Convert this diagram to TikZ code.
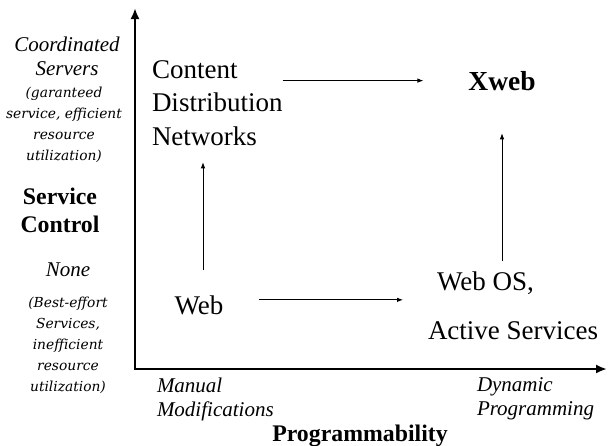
\documentclass[tikz,border=0pt]{standalone}
\usepackage{fontspec}
\setmainfont{Liberation Serif}
\newfontfamily\notefont{DejaVu Serif}
\usetikzlibrary{arrows.meta}
\begin{document}
\begin{tikzpicture}[x=1pt,y=-1pt,
  every node/.style={inner sep=0pt, outer sep=0pt},
  axisline/.style={line width=2.4pt, line join=miter},
  conn/.style={line width=0.8pt, -{Latex[length=6pt,width=4.5pt]}},
  scaletitle/.style={font=\fontsize{21}{23.5}\selectfont\itshape, align=center},
  note/.style={font=\notefont\itshape\fontsize{13.8}{21}\selectfont, align=center},
  axistitle/.style={font=\fontsize{23.8}{28}\selectfont\bfseries, align=center},
  stage/.style={font=\fontsize{27}{33.5}\selectfont},
]
\useasboundingbox (0,0) rectangle (613,445);

% axes
\coordinate (origin) at (135,369);
\coordinate (ytip) at (135,8);
\coordinate (xtip) at (607,369);
\draw[axisline, {Latex[length=11pt,width=9pt]}-{Latex[length=11pt,width=9pt]}]
  (ytip) -- (origin) -- (xtip);

% vertical axis labels (base = baseline of the last line)
\node[scaletitle, anchor=base] (coord) at (67,75) {Coordinated\\Servers};
\node[note, anchor=base] (coordnote) at (64,160)
  {(garanteed\\service, efficient\\resource\\utilization)};
\node[axistitle, anchor=base] (vtitle) at (60,232) {Service\\Control};
\node[scaletitle, anchor=base] (none) at (68,276) {None};
\node[note, anchor=base] (nonenote) at (68,391)
  {(Best-effort\\Services,\\inefficient\\resource\\utilization)};

% horizontal axis labels
\node[scaletitle, align=left, anchor=base west] (manual) at (157,416) {Manual\\Modifications};
\node[scaletitle, align=left, anchor=base west] (dynamic) at (477,415) {Dynamic\\Programming};
\node[axistitle, anchor=base] (htitle) at (360,441) {Programmability};

% stages
\node[stage, align=left, anchor=base west] (cdn) at (152,145) {Content\\Distribution\\Networks};
\node[font=\fontsize{27.5}{30}\selectfont\bfseries, anchor=base] (xweb) at (502,90) {Xweb};
\node[stage, anchor=base] (web) at (199,314) {Web};
\node[font=\fontsize{27}{49}\selectfont, align=left, anchor=base west] (webos) at (428,339)
  {\hspace{9pt}Web OS,\\Active Services};

% transitions
\coordinate (webtop) at ([xshift=4pt]web.north);
\draw[conn, shorten <=25pt, shorten >=17pt] (webtop) -- (webtop |- cdn.south);
\draw[conn, shorten >=45pt] (cdn.east |- xweb.center) -- (xweb.west);
\draw[conn, shorten <=10pt, shorten >=43pt] (xweb.south |- webos.north) -- (xweb.south);
\coordinate (webright) at ([yshift=5pt]web.east);
\draw[conn, shorten <=36pt, shorten >=25pt] (webright) -- (webright -| webos.west);
\end{tikzpicture}
\end{document}
